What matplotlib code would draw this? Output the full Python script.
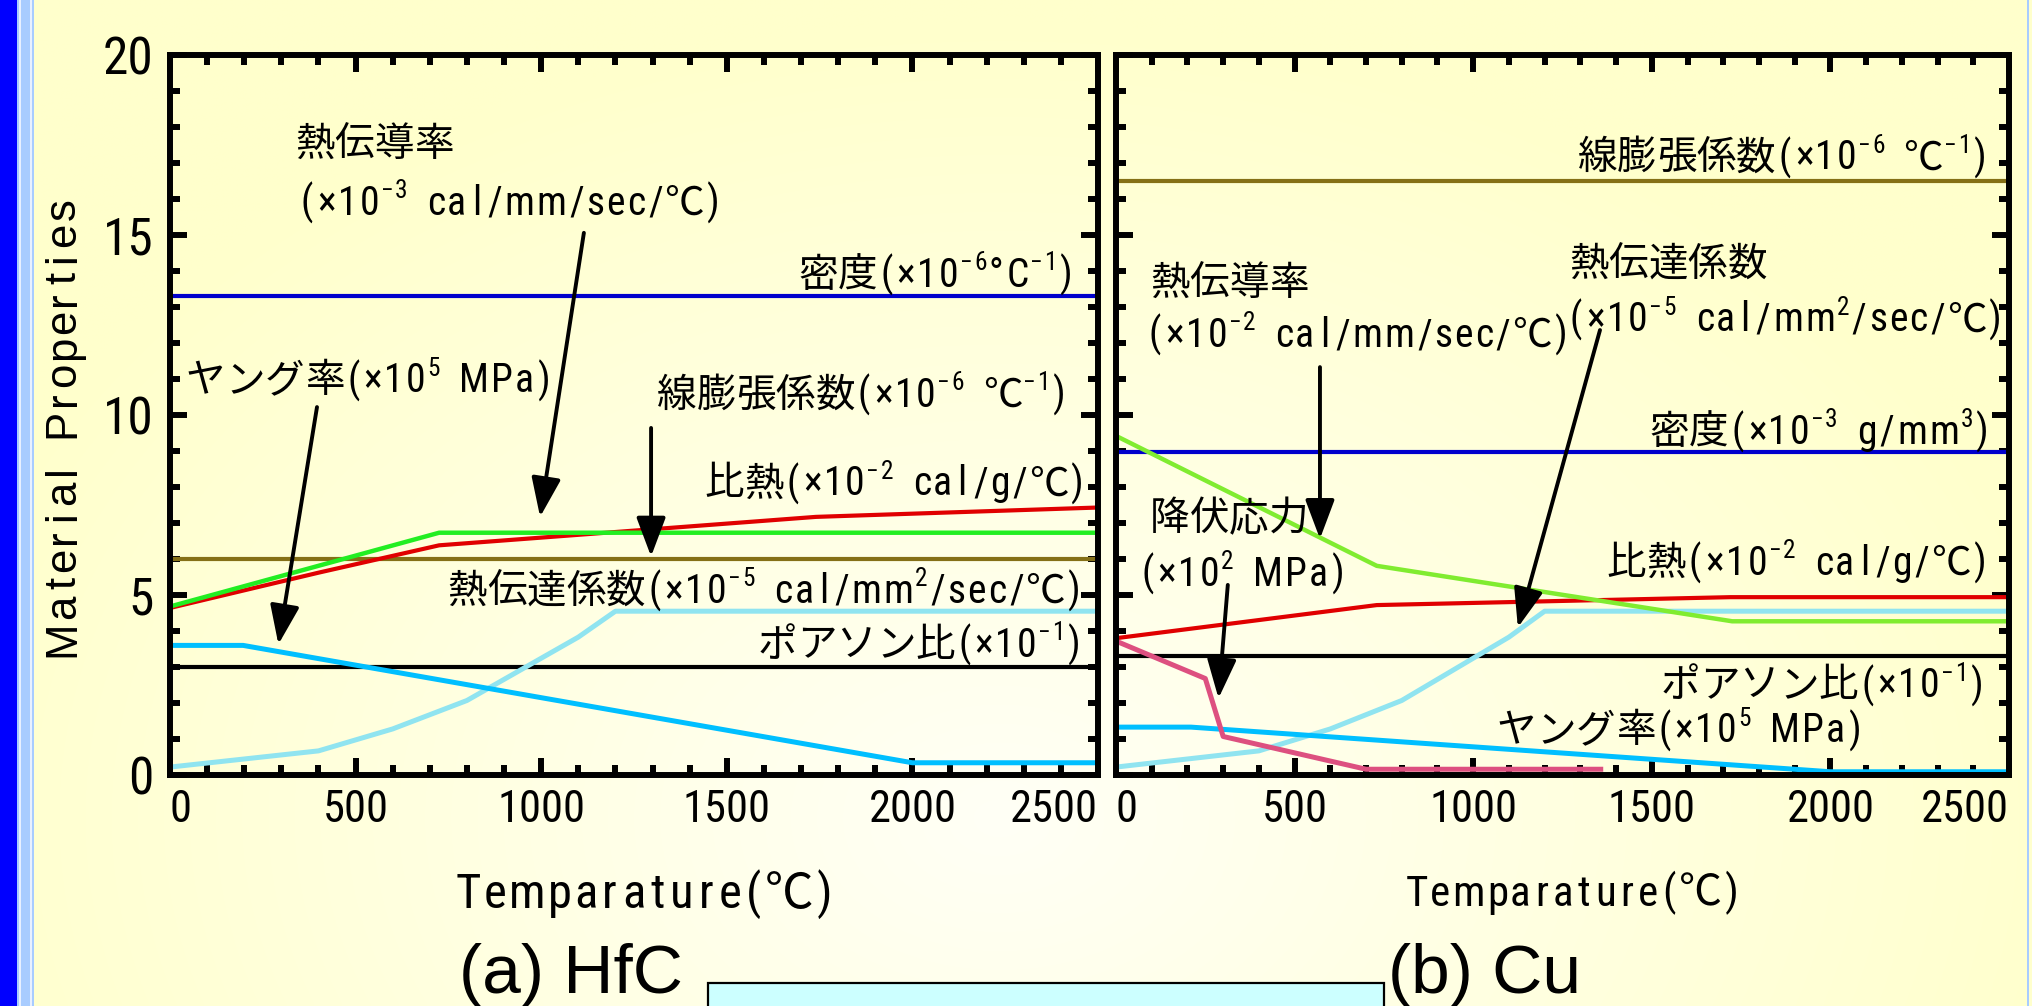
import re

import numpy as np
import matplotlib

matplotlib.use("Agg")
import matplotlib.pyplot as plt
from matplotlib import font_manager
from matplotlib.font_manager import FontProperties
from matplotlib.patches import Rectangle, ArrowStyle
from matplotlib.ticker import MultipleLocator

# ---- data -----------------------------------------------------------------
TEMP_TICKS = [0, 500, 1000, 1500, 2000, 2500]
PROP_TICKS = [0, 5, 10, 15, 20]

# (a) HfC
hfc_density = 13.3
hfc_expansion = 6.0
hfc_poisson = 3.0
hfc_cp_T = [0, 400, 725, 1740, 2500]
hfc_cp = [4.64, 5.62, 6.38, 7.17, 7.43]
hfc_k_T = [0, 725, 2500]
hfc_k = [4.68, 6.73, 6.73]
hfc_E_T = [0, 197, 2000, 2500]
hfc_E = [3.6, 3.6, 0.34, 0.34]

# heat transfer coefficient (same curve on both panels)
htc_T = [0, 400, 600, 800, 1100, 1200, 2500]
htc = [0.22, 0.67, 1.28, 2.07, 3.83, 4.55, 4.55]

# (b) Cu
cu_density = 8.96
cu_expansion = 16.5
cu_poisson = 3.3
cu_cp_T = [0, 730, 1720, 2500]
cu_cp = [3.80, 4.72, 4.94, 4.94]
cu_k_T = [0, 730, 1725, 2500]
cu_k = [9.42, 5.81, 4.27, 4.27]
cu_E_T = [0, 210, 2000, 2500]
cu_E = [1.33, 1.33, 0.09, 0.09]
cu_sy_T = [0, 250, 300, 700, 1357]
cu_sy = [3.72, 2.68, 1.07, 0.16, 0.16]

# ---- fonts: a narrow latin face if one exists -----------------------------
_fonts = font_manager.fontManager.ttflist
_names = {f.name for f in _fonts}
narrow = None
for n in ("Liberation Sans Narrow", "Roboto Condensed", "Noto Sans Condensed",
          "DejaVu Sans Condensed", "Open Sans Condensed"):
    if n in _names:
        narrow = (n, "normal")
        break
if narrow is None:
    for n in ("DejaVu Sans", "Noto Sans", "Roboto", "Open Sans"):
        if any(f.name == n and f.stretch in ("condensed", "semi-condensed")
               and f.style == "normal" for f in _fonts):
            narrow = (n, "condensed")
            break
if narrow is None:
    narrow = ("Liberation Sans", "normal")
CJK = "Noto Sans CJK JP"
plt.rcParams["font.family"] = ["Liberation Sans", CJK, "DejaVu Sans"]

W, H = 2033, 1006
fig = plt.figure(figsize=(W / 100, H / 100), dpi=100)
renderer = fig.canvas.get_renderer()
PT = 72 / fig.dpi

# ---- background: pale yellow with a whiter centre, blue band on the left ----
bg = fig.add_axes([0, 0, 1, 1], zorder=-10)
gx, gy = np.meshgrid(np.linspace(0, W, 400), np.linspace(0, H, 200))
d = np.clip(np.sqrt(((gx - 1000) / 1100) ** 2 + ((gy - 820) / 800) ** 2), 0, 1)
edge = np.array([255, 255, 204]) / 255
centre = np.array([255, 255, 246]) / 255
img = centre[None, None, :] * (1 - d[..., None]) + edge[None, None, :] * d[..., None]
bg.imshow(img, extent=[0, W, H, 0], aspect="auto", interpolation="bilinear")
bg.set_xlim(0, W)
bg.set_ylim(H, 0)
bg.axis("off")
for x0, x1, c in [(0, 17, "#0000FF"), (17, 19, "#A8CCFF"), (19, 21, "#E8F0FF"),
                  (21, 30, "#A8CCFF"), (30, 32, "#E8F0FF"), (32, 34, "#A8CCFF"),
                  (2027, 2029, "#A8CCFF")]:
    bg.add_patch(Rectangle((x0, 0), x1 - x0, H, color=c, lw=0))
bg.add_patch(Rectangle((708, 983), 1384 - 708, 40, facecolor="#CCFFFF",
                       edgecolor="black", lw=1.6))

# ---- axes -------------------------------------------------------------------
axL = fig.add_axes([170 / W, 1 - 775 / H, 928 / W, 720 / H])
axR = fig.add_axes([1116 / W, 1 - 775 / H, 893 / W, 720 / H])

for ax in (axL, axR):
    ax.set_facecolor("none")
    ax.set_xlim(0, 2500)
    ax.set_ylim(0, 20)
    ax.set_xticks(TEMP_TICKS, [str(t) for t in TEMP_TICKS])
    ax.set_yticks(PROP_TICKS, [str(p) for p in PROP_TICKS])
    ax.xaxis.set_minor_locator(MultipleLocator(100))
    ax.yaxis.set_minor_locator(MultipleLocator(1))
    ax.tick_params(which="both", direction="in", top=True, right=True, width=4.3)
    ax.tick_params(which="major", length=12.5)
    ax.tick_params(which="minor", length=7)
    ax.tick_params(axis="x", labelsize=32, pad=10)
    ax.tick_params(axis="y", labelsize=37, pad=12)
    for s in ax.spines.values():
        s.set_linewidth(4.3)
    for lbl in ax.get_xticklabels() + ax.get_yticklabels():
        lbl.set_family(narrow[0])
        lbl.set_stretch(narrow[1])
    xl = ax.get_xticklabels()
    xl[0].set_horizontalalignment("left")
    xl[-1].set_horizontalalignment("right")
axR.tick_params(axis="y", labelleft=False)

C_RED, C_BLUE, C_BROWN = "#E00000", "#0000CC", "#857016"
C_LCYAN, C_SKY, C_PINK = "#90E4F0", "#00BFFF", "#DD5080"

# (a) HfC
axL.axhline(hfc_density, color=C_BLUE, lw=3.0)
axL.axhline(hfc_expansion, color=C_BROWN, lw=3.0)
axL.axhline(hfc_poisson, color="black", lw=3.0)
axL.plot(htc_T, htc, color=C_LCYAN, lw=3.6)
axL.plot(hfc_E_T, hfc_E, color=C_SKY, lw=3.6)
axL.plot(hfc_cp_T, hfc_cp, color=C_RED, lw=3.0)
axL.plot(hfc_k_T, hfc_k, color="#22EE22", lw=3.2)

# (b) Cu
axR.axhline(cu_expansion, color=C_BROWN, lw=3.0)
axR.axhline(cu_density, color=C_BLUE, lw=3.0)
axR.axhline(cu_poisson, color="black", lw=3.0)
axR.plot(htc_T, htc, color=C_LCYAN, lw=3.6)
axR.plot(cu_E_T, cu_E, color=C_SKY, lw=3.6)
axR.plot(cu_sy_T, cu_sy, color=C_PINK, lw=3.6)
axR.plot(cu_cp_T, cu_cp, color=C_RED, lw=3.0)
axR.plot(cu_k_T, cu_k, color="#80EC30", lw=3.2)

# ---- half-width / full-width text, the way a Japanese gothic face sets it ----
TXT = 28.5
SUP_RATIO = 0.64
HALF, GAP = 0.46, 0.05   # min cell width and side bearing, in em


def _cells(s, size, fam, stretch):
    out = []
    for i, part in enumerate(re.split(r"\^\{([^}]*)\}", s)):
        sup = i % 2 == 1
        sz = size * SUP_RATIO if sup else size
        for ch in part:
            if ord(ch) >= 0x2E80 or ch == "℃":
                out.append((ch, sz, sup, sz, [CJK, "DejaVu Sans"], "normal"))
                continue
            fams = [fam, CJK, "DejaVu Sans"]
            ink = 0.0
            if ch.strip():
                prop = FontProperties(family=fams, stretch=stretch, size=sz)
                ink = renderer.get_text_width_height_descent(ch, prop, ismath=False)[0] * PT
            out.append((ch, sz, sup, max(ink + GAP * sz, HALF * sz), fams, stretch))
    return out


def mono_text(ax, x, y, s, size=TXT, ha="left", xycoords="data",
              fam=None, stretch=None, rotation=0):
    fam = fam or narrow[0]
    stretch = stretch or narrow[1]
    cells = _cells(s, size, fam, stretch)
    total = sum(c[3] for c in cells)
    off = {"left": 0.0, "right": -total, "center": -total / 2}[ha]
    for ch, sz, sup, w, fams, st in cells:
        if ch.strip():
            along = off + w / 2
            perp = -0.34 * size + (0.42 * size if sup else 0.0)
            xt = (along, perp) if rotation == 0 else (-perp, along)
            ax.annotate(ch, xy=(x, y), xycoords=xycoords, xytext=xt,
                        textcoords="offset points", ha="center", va="baseline",
                        fontsize=sz, family=fams, stretch=st, rotation=rotation,
                        rotation_mode="anchor", annotation_clip=False)
        off += w


def arrow(ax, tail, tip):
    ax.annotate("", xy=tip, xytext=tail,
                arrowprops=dict(arrowstyle=ArrowStyle("-|>", head_length=1.6, head_width=0.6),
                                color="black", lw=2.8, mutation_scale=15,
                                shrinkA=0, shrinkB=0))


mono_text(axL, 337, 17.57, "熱伝導率")
mono_text(axL, 345, 15.94, "(×10^{−3} cal/mm/sec/℃)")
mono_text(axL, 2440, 13.93, "密度(×10^{−6}°C^{−1})", ha="right")
mono_text(axL, 43, 11.0, "ヤング率(×10^{5} MPa)")
mono_text(axL, 2420, 10.6, "線膨張係数(×10^{−6} ℃^{−1})", ha="right")
mono_text(axL, 2470, 8.14, "比熱(×10^{−2} cal/g/℃)", ha="right")
mono_text(axL, 2460, 5.16, "熱伝達係数(×10^{−5} cal/mm^{2}/sec/℃)", ha="right")
mono_text(axL, 2460, 3.66, "ポアソン比(×10^{−1})", ha="right")
arrow(axL, (1115, 15.06), (997, 7.17))
arrow(axL, (396, 10.22), (292, 3.63))
arrow(axL, (1296, 9.64), (1296, 6.07))

mono_text(axR, 2444, 17.2, "線膨張係数(×10^{−6} ℃^{−1})", ha="right")
mono_text(axR, 95, 13.7, "熱伝導率")
mono_text(axR, 84, 12.26, "(×10^{−2} cal/mm/sec/℃)")
mono_text(axR, 1268, 14.24, "熱伝達係数")
mono_text(axR, 2488, 12.7, "(×10^{−5} cal/mm^{2}/sec/℃)", ha="right")
mono_text(axR, 2452, 9.57, "密度(×10^{−3} g/mm^{3})", ha="right")
mono_text(axR, 95, 7.18, "降伏応力")
mono_text(axR, 62, 5.63, "(×10^{2} MPa)")
mono_text(axR, 2444, 5.93, "比熱(×10^{−2} cal/g/℃)", ha="right")
mono_text(axR, 2436, 2.53, "ポアソン比(×10^{−1})", ha="right")
mono_text(axR, 2094, 1.28, "ヤング率(×10^{5} MPa)", ha="right")
arrow(axR, (571, 11.33), (571, 6.56))
arrow(axR, (1355, 12.36), (1125, 4.10))
arrow(axR, (313, 5.28), (287, 2.13))

# ---- axis titles and panel captions -----------------------------------------
mono_text(axL, 60 / W, 1 - 428 / H, "Material Properties", size=31.5, ha="center",
          xycoords="figure fraction", fam="Liberation Sans", stretch="normal",
          rotation=90)
mono_text(axL, 645 / W, 1 - 891 / H, "Temparature(℃)", size=35, ha="center",
          xycoords="figure fraction")
mono_text(axL, 1573 / W, 1 - 891 / H, "Temparature(℃)", size=31, ha="center",
          xycoords="figure fraction")
fig.text(459 / W, 1 - 993 / H, "(a) HfC", fontsize=50, ha="left", va="baseline")
fig.text(1388 / W, 1 - 993 / H, "(b) Cu", fontsize=50, ha="left", va="baseline")

fig.savefig("out.png", dpi=100)
